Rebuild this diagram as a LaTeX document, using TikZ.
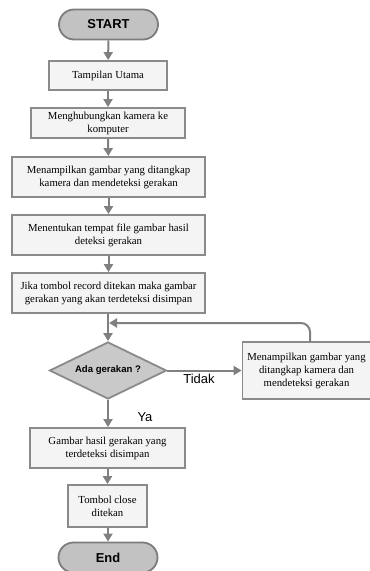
\documentclass[tikz,border=0pt]{standalone}
\usepackage{fontspec}
\setmainfont{Liberation Serif}
\setsansfont{Liberation Sans}
\usetikzlibrary{arrows.meta,shapes.geometric}
\definecolor{boxfill}{HTML}{F4F4F4}
\definecolor{boxline}{HTML}{8A8A8A}
\definecolor{termfill}{HTML}{C2C2C2}
\definecolor{termline}{HTML}{7C7C7C}
\definecolor{dfill}{HTML}{C9C9C9}
\definecolor{arrcol}{HTML}{808080}
\tikzset{
  procbox/.style={draw=boxline, fill=boxfill, line width=1.8bp, inner sep=0pt,
    align=center, font=\fontsize{10.8}{13}\selectfont},
  termbox/.style={draw=termline, fill=termfill, line width=1.8bp, inner sep=0pt,
    rounded corners=15bp, minimum width=99bp, minimum height=30bp,
    font=\sffamily\bfseries\fontsize{13}{15}\selectfont},
  decbox/.style={draw=boxline, fill=dfill, line width=1.8bp, diamond, inner sep=0pt,
    aspect=2.05, minimum width=117bp, minimum height=57bp,
    font=\sffamily\bfseries\fontsize{9.6}{11}\selectfont},
  flow/.style={draw=arrcol, line width=2bp, -{Triangle[width=9bp,length=8bp]}},
  lbl/.style={font=\sffamily\fontsize{13}{15}\selectfont, inner sep=0pt}
}
\begin{document}
\begin{tikzpicture}[x=1bp,y=-1bp]
\useasboundingbox (0,0) rectangle (369,571);
\node[termbox] (start) at (108.5,24.5) {START};
\node[procbox, minimum width=118bp, minimum height=29bp] (tamp) at (108,75.5) {Tampilan Utama};
\node[procbox, minimum width=154bp, minimum height=30bp] (meng) at (108,123) {Menghubungkan kamera ke\\komputer};
\node[procbox, minimum width=193bp, minimum height=40bp] (menam) at (108.5,177) {Menampilkan gambar yang ditangkap\\kamera dan mendeteksi gerakan};
\node[procbox, minimum width=193bp, minimum height=40bp] (menent) at (108.5,235) {Menentukan tempat file gambar hasil\\deteksi gerakan};
\node[procbox, minimum width=193bp, minimum height=40bp] (jika) at (108.5,293) {Jika tombol record ditekan maka gambar\\gerakan yang akan terdeteksi disimpan};
\node[decbox] (dec) at (108,370.5) {Ada gerakan ?};
\node[procbox, minimum width=128bp, minimum height=57bp] (rb) at (306.5,370.5) {Menampilkan gambar yang\\ditangkap kamera dan\\mendeteksi gerakan};
\node[procbox, minimum width=155bp, minimum height=40bp] (gamb) at (107.5,448) {Gambar hasil gerakan yang\\terdeteksi disimpan};
\node[procbox, minimum width=79bp, minimum height=42bp] (tomb) at (107.5,506) {Tombol close\\ditekan};
\node[termbox] (end) at (108,557.5) {End};
\node[lbl] (tidak) at (199,379) {Tidak};
\node[lbl] (ya) at (145,417) {Ya};
\coordinate (rbtop) at (310,342);
\coordinate (loopend) at (109,323);
\draw[flow] (start) -- (tamp);
\draw[flow] (tamp) -- (meng);
\draw[flow] (meng) -- (menam);
\draw[flow] (menam) -- (menent);
\draw[flow] (menent) -- (jika);
\draw[flow] (jika.south -| dec.north) -- (dec.north);
\draw[flow] (dec.east) -- (rb.west);
\draw[flow, rounded corners=9bp] (rbtop) |- (loopend);
\draw[flow] (dec.south) -- (gamb.north -| dec.south);
\draw[flow] (gamb.south -| tomb.north) -- (tomb.north);
\draw[flow] (tomb.south -| end.north) -- (end.north);
\end{tikzpicture}
\end{document}
